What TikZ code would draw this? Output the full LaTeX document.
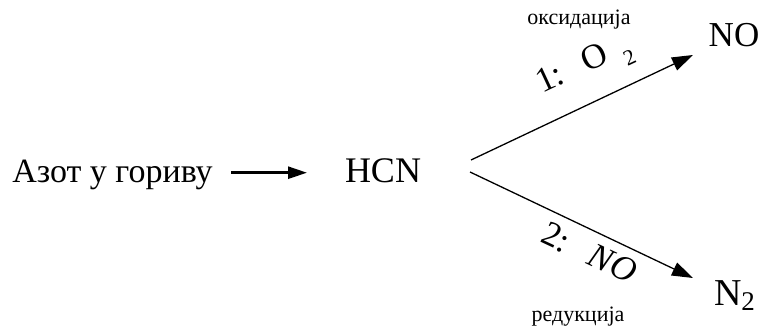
\documentclass[tikz,border=0pt]{standalone}
\usepackage{fontspec}
\setmainfont{Liberation Serif}
\usetikzlibrary{arrows.meta}
\begin{document}
\begin{tikzpicture}[x=1pt,y=1pt,
  lbl/.style={inner sep=0pt, outer sep=0pt},
  big/.style={lbl, font=\fontsize{35}{40}\selectfont},
  small/.style={lbl, font=\fontsize{22}{26}\selectfont},
  mid/.style={lbl, font=\fontsize{35}{40}\selectfont},
  thickarrow/.style={line width=2.6pt, -{Triangle[length=19pt,width=12pt]}},
  thinarrow/.style={line width=1.3pt, -{Triangle[length=21pt,width=14pt]}}
]
\useasboundingbox (0,0) rectangle (763,332);
% main nodes
\node[big, anchor=base] (azot) at (112.5,149) {\fontsize{34}{40}\selectfont Азот у гориву};
\node[big, anchor=base] (hcn) at (383,149) {\fontsize{36}{40}\selectfont HCN};
\node[big, anchor=base] (no) at (734,285) {NO};
\node[big, anchor=base west] (n2) at (714,27) {\fontsize{38}{40}\selectfont N\raisebox{-0.3ex}{\fontsize{27}{30}\selectfont 2}};
% annotations
\node[small, anchor=base] (oks) at (579,307) {оксидација};
\node[small, anchor=base] (red) at (578,10) {редукција};
% connector end points
\coordinate (a1) at (231,159.3);
\coordinate (a2) at (307,159.3);
\coordinate (s1) at (471,172);
\coordinate (e1) at (693,277);
\coordinate (s2) at (470,160);
\coordinate (e2) at (693,54);
% connectors
\draw[thickarrow] (a1) -- (a2);
\draw[thinarrow] (s1) -- (e1);
\draw[thinarrow] (s2) -- (e2);
% arrow labels
\node[mid, anchor=base west, rotate=25] (l1) at (542,238)
  {1:\hspace{0.65em}O\hspace{0.4em}\raisebox{-0.7ex}{\fontsize{22}{24}\selectfont 2}};
\node[mid, anchor=base west, rotate=-25] (l2) at (539,90)
  {2:\hspace{0.7em}\textit{NO}};
\end{tikzpicture}
\end{document}
